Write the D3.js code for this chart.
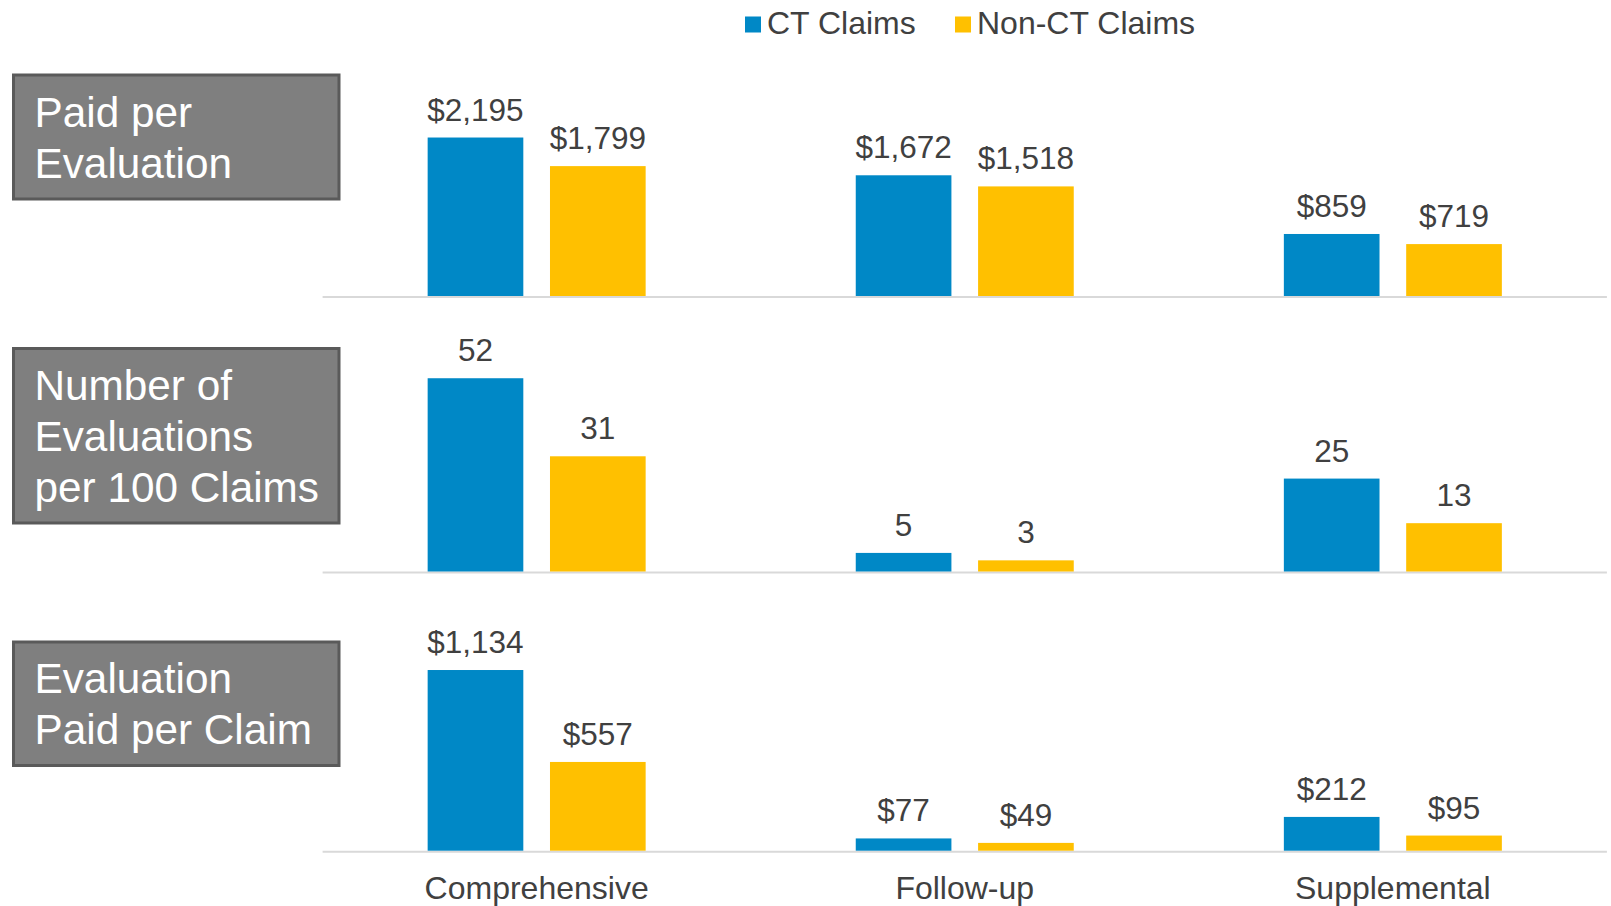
<!DOCTYPE html>
<html>
<head>
<meta charset="utf-8">
<script src="https://cdn.jsdelivr.net/npm/d3@7"></script>
<style>
  html, body { margin: 0; padding: 0; background: #ffffff; }
  svg { display: block; font-family: "Liberation Sans", Arial, sans-serif; }
</style>
</head>
<body>
<svg id="chart" width="1611" height="906"></svg>
<script>
// ---- Data ----
const categories = ["Comprehensive", "Follow-up", "Supplemental"];
const seriesNames = ["CT Claims", "Non-CT Claims"];
const rowTitles = [
  ["Paid per", "Evaluation"],
  ["Number of", "Evaluations", "per 100 Claims"],
  ["Evaluation", "Paid per Claim"]
];
const paidPerEvalCT = [2195, 1672, 859];
const paidPerEvalNonCT = [1799, 1518, 719];
const evalsPer100CT = [52, 5, 25];
const evalsPer100NonCT = [31, 3, 13];
const paidPerClaimCT = [1134, 77, 212];
const paidPerClaimNonCT = [557, 49, 95];
const rowMax = [2500, 60, 1200];
const rowIsMoney = [true, false, true];

// ---- Layout ----
const colors = { "CT Claims": "#0088c6", "Non-CT Claims": "#ffc000" };
const textColor = "#404040";
const svg = d3.select("#chart");

const rows = [
  { ct: paidPerEvalCT, non: paidPerEvalNonCT, base: 296, top: 115.5, box: [75, 199] },
  { ct: evalsPer100CT, non: evalsPer100NonCT, base: 571.5, top: 348.5, box: [348.5, 523] },
  { ct: paidPerClaimCT, non: paidPerClaimNonCT, base: 850.7, top: 659.5, box: [642, 765.5] }
];

const x0 = d3.scaleBand().domain(categories).range([322.6, 1606.9]).padding(0);
const groupW = 218;
const x1 = d3.scaleBand().domain(seriesNames).range([0, groupW]).paddingInner(0.218).paddingOuter(0);
const groupOffset = (x0.bandwidth() - groupW) / 2;

const money = d3.format(",");

rows.forEach((row, ri) => {
  const y = d3.scaleLinear().domain([0, rowMax[ri]]).range([row.base, row.top]);
  const g = svg.append("g");

  // axis baseline
  g.append("line")
    .attr("x1", x0.range()[0]).attr("x2", x0.range()[1])
    .attr("y1", row.base + 1).attr("y2", row.base + 1)
    .attr("stroke", "#d9d9d9").attr("stroke-width", 2);

  const data = [];
  categories.forEach((c, ci) => {
    data.push({ cat: c, s: "CT Claims", v: row.ct[ci] });
    data.push({ cat: c, s: "Non-CT Claims", v: row.non[ci] });
  });

  g.selectAll("rect.bar").data(data).enter().append("rect")
    .attr("class", "bar")
    .attr("x", d => x0(d.cat) + groupOffset + x1(d.s))
    .attr("width", x1.bandwidth())
    .attr("y", d => y(d.v))
    .attr("height", d => y(0) - y(d.v))
    .attr("fill", d => colors[d.s]);

  g.selectAll("text.val").data(data).enter().append("text")
    .attr("class", "val")
    .attr("x", d => x0(d.cat) + groupOffset + x1(d.s) + x1.bandwidth() / 2)
    .attr("y", d => y(d.v) - 17)
    .attr("text-anchor", "middle")
    .attr("font-size", 31.5)
    .attr("fill", textColor)
    .text(d => rowIsMoney[ri] ? "$" + money(d.v) : d.v);

  // row title box
  const bx = 13.5, bw = 325.5;
  const by = row.box[0], bh = row.box[1] - row.box[0];
  svg.append("rect")
    .attr("x", bx).attr("y", by).attr("width", bw).attr("height", bh)
    .attr("fill", "#7f7f7f").attr("stroke", "#5a5a5a").attr("stroke-width", 3);
  const lines = rowTitles[ri];
  const cy = by + bh / 2;
  const lh = 51;
  const firstBase = cy - (lines.length - 1) * lh / 2 + 15;
  const t = svg.append("text")
    .attr("font-size", 42.3).attr("fill", "#ffffff");
  lines.forEach((ln, li) => {
    t.append("tspan").attr("x", 34.5).attr("y", firstBase + li * lh).text(ln);
  });
});

// category axis labels
svg.append("g").selectAll("text").data(categories).enter().append("text")
  .attr("x", d => x0(d) + x0.bandwidth() / 2)
  .attr("y", 899)
  .attr("text-anchor", "middle")
  .attr("font-size", 32)
  .attr("fill", textColor)
  .text(d => d);

// legend
const legendItems = [
  { name: seriesNames[0], x: 745 },
  { name: seriesNames[1], x: 955 }
];
const lg = svg.append("g");
legendItems.forEach(it => {
  lg.append("rect").attr("x", it.x).attr("y", 16.5).attr("width", 16).attr("height", 16)
    .attr("fill", colors[it.name]);
  lg.append("text").attr("x", it.x + 22).attr("y", 33.5)
    .attr("font-size", 32).attr("fill", textColor).text(it.name);
});
</script>
</body>
</html>
